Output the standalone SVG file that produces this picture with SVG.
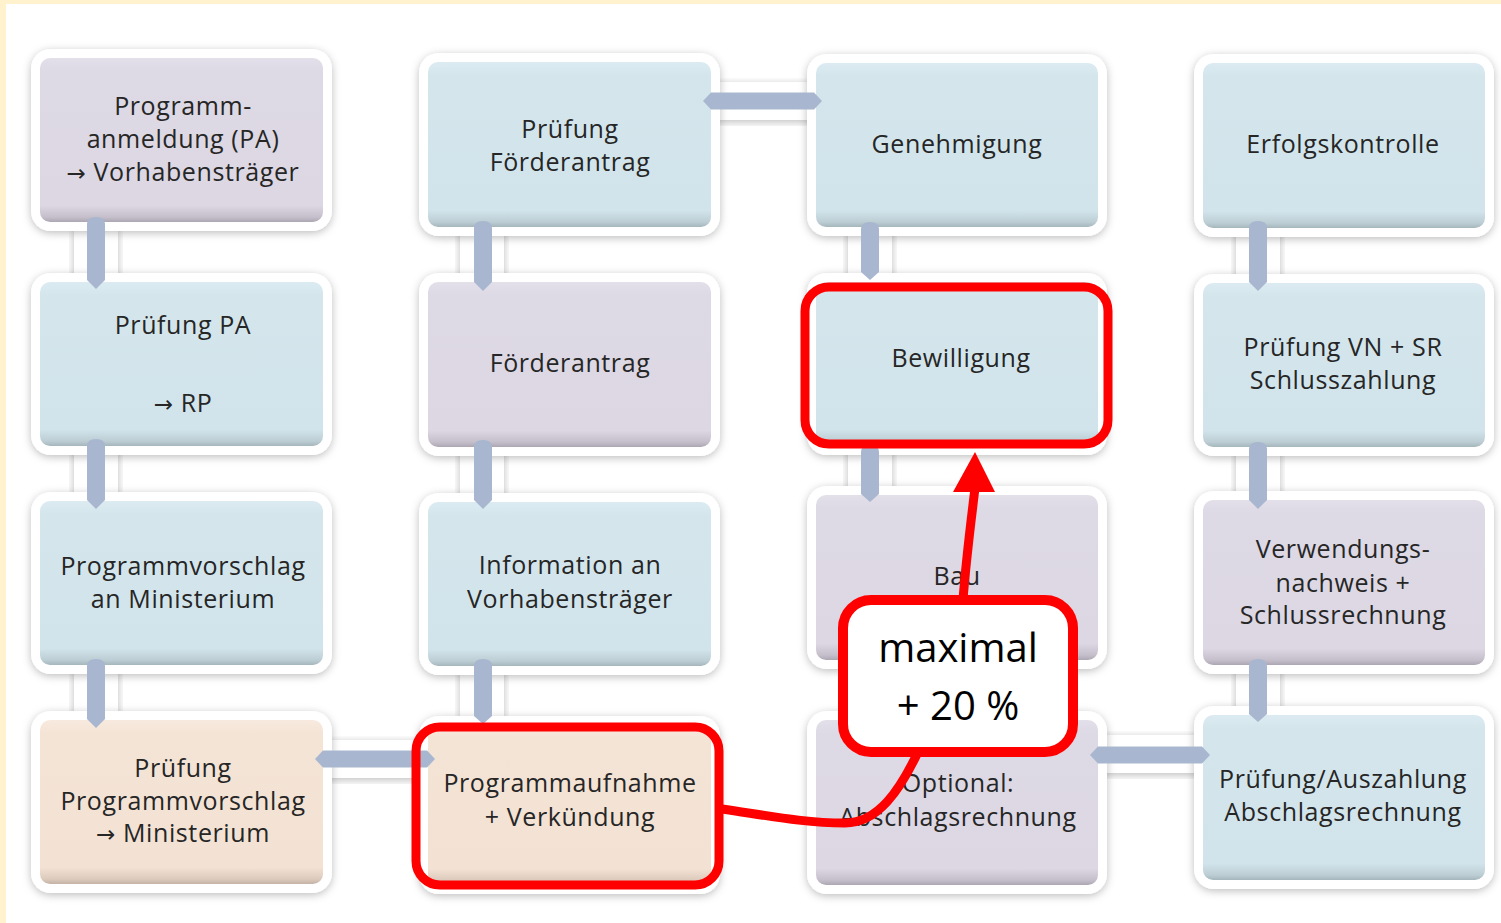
<svg xmlns="http://www.w3.org/2000/svg" width="1501" height="923" viewBox="0 0 1501 923">
<style>
.frame{fill:#ffffff;filter:url(#sh)}
.strip{fill:#ffffff;filter:url(#sh)}
.blue{fill:url(#gBlue)}
.lilac{fill:url(#gLilac)}
.peach{fill:url(#gPeach)}
.t{font-family:"Open Sans","Liberation Sans",sans-serif;font-size:25px;fill:#262626;text-anchor:middle;letter-spacing:0.6px}
.ar{font-family:"DejaVu Sans",sans-serif;font-size:23px}
.bar{fill:#a8b7cf}
.red{fill:none;stroke:#ff0000;stroke-width:9}
.ct{font-family:"Open Sans","Liberation Sans",sans-serif;font-size:40px;fill:#000;text-anchor:middle}
</style>
<defs>
<filter id="sh" x="-10%" y="-10%" width="120%" height="125%">
<feDropShadow dx="0" dy="2" stdDeviation="4" flood-color="#000" flood-opacity="0.26"/>
</filter>
<linearGradient id="gBlue" x1="0" y1="0" x2="0" y2="1">
<stop offset="0" stop-color="#dbebf1"/><stop offset="0.08" stop-color="#d4e6ec"/><stop offset="0.9" stop-color="#d2e4eb"/><stop offset="0.97" stop-color="#bccdd4"/><stop offset="1" stop-color="#a6b6bd"/>
</linearGradient>
<linearGradient id="gLilac" x1="0" y1="0" x2="0" y2="1">
<stop offset="0" stop-color="#e4e0ea"/><stop offset="0.08" stop-color="#ddd9e5"/><stop offset="0.9" stop-color="#dcd7e3"/><stop offset="0.97" stop-color="#c5bfcc"/><stop offset="1" stop-color="#ada7b4"/>
</linearGradient>
<linearGradient id="gPeach" x1="0" y1="0" x2="0" y2="1">
<stop offset="0" stop-color="#f8eadf"/><stop offset="0.08" stop-color="#f4e4d6"/><stop offset="0.9" stop-color="#f3e2d4"/><stop offset="0.97" stop-color="#dccabc"/><stop offset="1" stop-color="#c4b3a6"/>
</linearGradient>
</defs>
<rect x="0" y="0" width="1501" height="923" fill="#ffffff"/>
<rect x="0" y="0" width="1501" height="4" fill="#fff2cc"/>
<rect x="0" y="0" width="6" height="923" fill="#fff2cc"/>

<g id="connectors">
<rect class="strip" x="74" y="228" width="44" height="52"/>
<rect class="strip" x="74" y="448" width="44" height="50"/>
<rect class="strip" x="74" y="668" width="44" height="50"/>
<rect class="strip" x="460" y="228" width="44" height="52"/>
<rect class="strip" x="460" y="448" width="44" height="50"/>
<rect class="strip" x="460" y="668" width="44" height="50"/>
<rect class="strip" x="848" y="228" width="44" height="52"/>
<rect class="strip" x="848" y="448" width="44" height="50"/>
<rect class="strip" x="1236" y="228" width="44" height="52"/>
<rect class="strip" x="1236" y="448" width="44" height="50"/>
<rect class="strip" x="1236" y="668" width="44" height="50"/>
<rect class="strip" x="714" y="82" width="100" height="38"/>
<rect class="strip" x="326" y="740" width="100" height="38"/>
<rect class="strip" x="1100" y="735" width="100" height="38"/>
</g>

<g id="n1"><rect class="frame" x="31" y="49" width="301" height="182" rx="20"/><rect class="lilac" x="40" y="58" width="283" height="164" rx="10"/>
<text class="t" x="183" y="115">Programm-</text><text class="t" x="183" y="148">anmeldung (PA)</text><text class="t" x="183" y="181"><tspan class="ar">→</tspan> Vorhabensträger</text></g>
<g id="n2"><rect class="frame" x="31" y="273" width="301" height="182" rx="20"/><rect class="blue" x="40" y="282" width="283" height="164" rx="10"/>
<text class="t" x="183" y="334">Prüfung PA</text><text class="t" x="183" y="412"><tspan class="ar">→</tspan> RP</text></g>
<g id="n3"><rect class="frame" x="31" y="492" width="301" height="182" rx="20"/><rect class="blue" x="40" y="501" width="283" height="164" rx="10"/>
<text class="t" x="183" y="575">Programmvorschlag</text><text class="t" x="183" y="608">an Ministerium</text></g>
<g id="n4"><rect class="frame" x="31" y="711" width="301" height="182" rx="20"/><rect class="peach" x="40" y="720" width="283" height="164" rx="10"/>
<text class="t" x="183" y="777">Prüfung</text><text class="t" x="183" y="810">Programmvorschlag</text><text class="t" x="183" y="842"><tspan class="ar">→</tspan> Ministerium</text></g>

<g id="n5"><rect class="frame" x="419" y="53" width="301" height="183" rx="20"/><rect class="blue" x="428" y="62" width="283" height="165" rx="10"/>
<text class="t" x="570" y="138">Prüfung</text><text class="t" x="570" y="171">Förderantrag</text></g>
<g id="n6"><rect class="frame" x="419" y="273" width="301" height="183" rx="20"/><rect class="lilac" x="428" y="282" width="283" height="165" rx="10"/>
<text class="t" x="570" y="372">Förderantrag</text></g>
<g id="n7"><rect class="frame" x="419" y="493" width="301" height="182" rx="20"/><rect class="blue" x="428" y="502" width="283" height="164" rx="10"/>
<text class="t" x="570" y="574">Information an</text><text class="t" x="570" y="608">Vorhabensträger</text></g>
<g id="n8"><rect class="frame" x="419" y="716" width="301" height="178" rx="20"/><rect class="peach" x="428" y="725" width="283" height="160" rx="10"/>
<text class="t" x="570" y="792">Programmaufnahme</text><text class="t" x="570" y="826">+ Verkündung</text></g>

<g id="n9"><rect class="frame" x="807" y="54" width="300" height="182" rx="20"/><rect class="blue" x="816" y="63" width="282" height="164" rx="10"/>
<text class="t" x="957" y="153">Genehmigung</text></g>
<g id="n10"><rect class="frame" x="807" y="273" width="300" height="182" rx="20"/><rect class="blue" x="816" y="282" width="282" height="164" rx="10"/>
<text class="t" x="961" y="367">Bewilligung</text></g>
<g id="n11"><rect class="frame" x="807" y="486" width="300" height="183" rx="20"/><rect class="lilac" x="816" y="495" width="282" height="165" rx="10"/>
<text class="t" x="957" y="585">Bau</text></g>
<g id="n12"><rect class="frame" x="807" y="711" width="300" height="183" rx="20"/><rect class="lilac" x="816" y="720" width="282" height="165" rx="10"/>
<text class="t" x="958" y="792">Optional:</text><text class="t" x="958" y="826">Abschlagsrechnung</text></g>

<g id="n13"><rect class="frame" x="1194" y="54" width="300" height="183" rx="20"/><rect class="blue" x="1203" y="63" width="282" height="165" rx="10"/>
<text class="t" x="1343" y="153">Erfolgskontrolle</text></g>
<g id="n14"><rect class="frame" x="1194" y="274" width="300" height="182" rx="20"/><rect class="blue" x="1203" y="283" width="282" height="164" rx="10"/>
<text class="t" x="1343" y="356">Prüfung VN + SR</text><text class="t" x="1343" y="389">Schlusszahlung</text></g>
<g id="n15"><rect class="frame" x="1194" y="491" width="300" height="183" rx="20"/><rect class="lilac" x="1203" y="500" width="282" height="165" rx="10"/>
<text class="t" x="1343" y="558">Verwendungs-</text><text class="t" x="1343" y="592">nachweis +</text><text class="t" x="1343" y="624">Schlussrechnung</text></g>
<g id="n16"><rect class="frame" x="1194" y="706" width="300" height="183" rx="20"/><rect class="blue" x="1203" y="715" width="282" height="165" rx="10"/>
<text class="t" x="1343" y="788">Prüfung/Auszahlung</text><text class="t" x="1343" y="821">Abschlagsrechnung</text></g>

<g id="bars">
<path class="bar" d="M87,224 Q87,217 96,217 Q105,217 105,224 L105,280 L96,289 L87,280 Z"/>
<path class="bar" d="M87,446 Q87,439 96,439 Q105,439 105,446 L105,500 L96,509 L87,500 Z"/>
<path class="bar" d="M87,666 Q87,659 96,659 Q105,659 105,666 L105,719 L96,728 L87,719 Z"/>
<path class="bar" d="M474,228 Q474,221 483,221 Q492,221 492,228 L492,282 L483,291 L474,282 Z"/>
<path class="bar" d="M474,447 Q474,440 483,440 Q492,440 492,447 L492,500 L483,509 L474,500 Z"/>
<path class="bar" d="M474,666 Q474,659 483,659 Q492,659 492,666 L492,716 L483,724 L474,716 Z"/>
<path class="bar" d="M861,229 Q861,222 870,222 Q879,222 879,229 L879,272 L870,280 L861,272 Z"/>
<path class="bar" d="M861,452 Q861,445 870,445 Q879,445 879,452 L879,494 L870,502 L861,494 Z"/>
<path class="bar" d="M1249,228 Q1249,221 1258,221 Q1267,221 1267,228 L1267,282 L1258,291 L1249,282 Z"/>
<path class="bar" d="M1249,449 Q1249,442 1258,442 Q1267,442 1267,449 L1267,500 L1258,509 L1249,500 Z"/>
<path class="bar" d="M1249,666 Q1249,659 1258,659 Q1267,659 1267,666 L1267,714 L1258,722 L1249,714 Z"/>
<path class="bar" d="M703,101 L711,92.5 L814,92.5 L822,101 L814,109.5 L711,109.5 Z"/>
<path class="bar" d="M315,759 L323,750.5 L427,750.5 L435,759 L427,767.5 L323,767.5 Z"/>
<path class="bar" d="M1090,755 L1098,746.5 L1202,746.5 L1210,755 L1202,763.5 L1098,763.5 Z"/>
</g>

<g id="highlights">
<rect class="red" x="805" y="287" width="303" height="157" rx="24"/>
<rect class="red" x="416" y="727" width="303" height="158" rx="24"/>
<path class="red" stroke-width="9" d="M722,809 C770,816 805,823 845,823 C878,823 900,790 918,752"/>
<path class="red" stroke-width="10" d="M963,600 C966,560 970,530 975,488"/>
<polygon points="953,492 995,492 975,452" fill="#ff0000"/>
</g>

<g id="callout">
<rect x="843" y="600" width="230" height="152" rx="28" fill="#ffffff" stroke="#ff0000" stroke-width="10"/>
<text class="ct" x="958" y="662">maximal</text>
<text class="ct" x="958" y="720">+ 20 %</text>
</g>
</svg>
